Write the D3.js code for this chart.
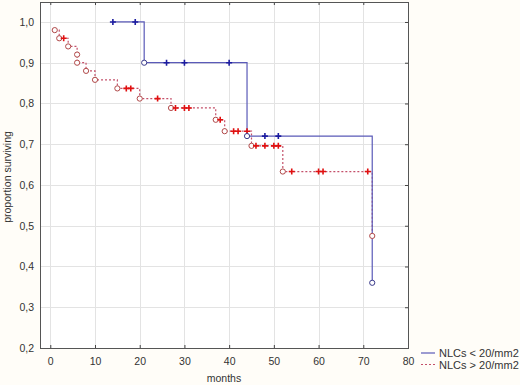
<!DOCTYPE html>
<html><head><meta charset="utf-8">
<script src="https://cdn.jsdelivr.net/npm/d3@7"></script>
<style>
html,body{margin:0;padding:0;background:#fffdf8;}
svg{display:block;font-family:"Liberation Sans",Arial,sans-serif;}
</style></head><body>
<svg id="chart" width="520" height="385"></svg>
<script>
// ---- data ----
const seriesNames = ["NLCs < 20/mm2", "NLCs > 20/mm2"];
// group 1 (NLCs < 20/mm2): time, survival, event(1)/censored(0)
const lowTimes  = [14, 19, 21, 26, 30, 40, 44, 48, 51, 72];
const lowSurv   = [1.0, 1.0, 0.90, 0.90, 0.90, 0.90, 0.72, 0.72, 0.72, 0.36];
const lowEvent  = [0, 0, 1, 0, 0, 0, 1, 0, 0, 1];
// group 2 (NLCs > 20/mm2)
const highTimes = [1, 2, 3, 4, 6, 6, 8, 10, 15, 17, 18, 20, 24, 27, 28, 30, 31, 37, 38, 39, 41, 42, 44, 45, 46, 48, 50, 51, 52, 54, 60, 61, 71, 72];
const highSurv  = [0.98, 0.96, 0.96, 0.94, 0.92, 0.90, 0.88, 0.858, 0.837, 0.837, 0.837, 0.812, 0.812, 0.789, 0.789, 0.789, 0.789, 0.76, 0.76, 0.732, 0.732, 0.732, 0.732, 0.696, 0.696, 0.696, 0.696, 0.696, 0.633, 0.633, 0.633, 0.633, 0.633, 0.475];
const highEvent = [1, 1, 0, 1, 1, 1, 1, 1, 1, 0, 0, 1, 0, 1, 0, 0, 0, 1, 0, 1, 0, 0, 0, 1, 0, 0, 0, 0, 1, 0, 0, 0, 0, 1];
const xTicks = [0, 10, 20, 30, 40, 50, 60, 70, 80];
const yTicks = [0.2, 0.3, 0.4, 0.5, 0.6, 0.7, 0.8, 0.9, 1.0];
const xLabel = "months";
const yLabel = "proportion surviving";

// ---- layout ----
const svg = d3.select("#chart");
const L = 40, R = 408, T = 2, B = 348;
const x = d3.scaleLinear().domain([-2.3, 80]).range([L, R]);
const y = d3.scaleLinear().domain([0.2, 1.049]).range([B, T]);
const fmt = d => d3.format(".1f")(d).replace(".", ",");

svg.append("rect").attr("x", L).attr("y", T).attr("width", R - L).attr("height", B - T).attr("fill", "#ffffff");

// grid
const grid = svg.append("g").attr("stroke", "#e3e3e3").attr("stroke-width", 1);
xTicks.forEach(t => { const px = Math.round(x(t)) + 0.5;
  grid.append("line").attr("x1", px).attr("x2", px).attr("y1", T).attr("y2", B); });
yTicks.forEach(t => { const py = Math.round(y(t)) + 0.5;
  grid.append("line").attr("x1", L).attr("x2", R).attr("y1", py).attr("y2", py); });

// axes with inward ticks
const ax = (axis, tr) => svg.append("g").attr("transform", tr).call(axis)
  .call(g => g.select(".domain").remove())
  .call(g => g.selectAll("line").attr("stroke", "#444"))
  .call(g => g.selectAll("text").attr("fill", "#333").style("font-size", "10.5px"));
ax(d3.axisBottom(x).tickValues(xTicks).tickSize(-3).tickPadding(10).tickFormat(d3.format("d")), `translate(0,${B})`);
ax(d3.axisTop(x).tickValues(xTicks).tickSize(-3).tickFormat(""), `translate(0,${T})`);
ax(d3.axisLeft(y).tickValues(yTicks).tickSize(0).tickPadding(6).tickFormat(fmt), `translate(${L},0)`);
ax(d3.axisRight(y).tickValues(yTicks).tickSize(-3).tickFormat(""), `translate(${R},0)`);

svg.append("rect").attr("x", L + 0.5).attr("y", T + 0.5).attr("width", R - L).attr("height", B - T)
  .attr("fill", "none").attr("stroke", "#555").attr("stroke-width", 1);

// step paths
function stepPts(times, surv) {
  const pts = [[times[0], surv[0]]];
  for (let i = 1; i < times.length; i++) {
    pts.push([times[i], surv[i - 1]]);
    pts.push([times[i], surv[i]]);
  }
  return pts;
}
const line = d3.line().x(d => x(d[0])).y(d => y(d[1]));

const groups = [
  {t: highTimes, s: highSurv, e: highEvent, line: "#c4506a", dash: "2,2", plus: "#e01010", circ: "#b04848"},
  {t: lowTimes, s: lowSurv, e: lowEvent, line: "#5a5ab8", dash: null, plus: "#1c1ca0", circ: "#3a3a8a"}
];
groups.forEach(g => {
  svg.append("path").attr("d", line(stepPts(g.t, g.s))).attr("fill", "none")
    .attr("stroke", g.line).attr("stroke-width", 1.2).attr("stroke-dasharray", g.dash);
});
groups.forEach(g => {
  const pts = g.t.map((t, i) => ({t, s: g.s[i], e: g.e[i]}));
  svg.append("g").selectAll("circle").data(pts.filter(d => d.e === 1)).join("circle")
    .attr("cx", d => x(d.t)).attr("cy", d => y(d.s)).attr("r", 2.6)
    .attr("fill", "#fff").attr("stroke", g.circ).attr("stroke-width", 1);
  svg.append("g").selectAll("path").data(pts.filter(d => d.e === 0)).join("path")
    .attr("d", d => { const cx = x(d.t), cy = y(d.s);
      return `M${cx - 3},${cy}H${cx + 3}M${cx},${cy - 3}V${cy + 3}`; })
    .attr("stroke", g.plus).attr("stroke-width", 1.6).attr("fill", "none");
});

// axis titles
svg.append("text").attr("x", (L + R) / 2).attr("y", 382).attr("text-anchor", "middle")
  .attr("fill", "#333").style("font-size", "10.5px").text(xLabel);
svg.append("text").attr("transform", `translate(11,177) rotate(-90)`).attr("text-anchor", "middle")
  .attr("fill", "#333").style("font-size", "10.5px").text(yLabel);

// legend
const leg = svg.append("g");
[{c: groups[1].line, d: null}, {c: groups[0].line, d: "2,2"}].forEach((it, i) => {
  const ly = 353 + i * 11.5;
  leg.append("line").attr("x1", 421).attr("x2", 435).attr("y1", ly).attr("y2", ly)
    .attr("stroke", it.c).attr("stroke-width", 1.2).attr("stroke-dasharray", it.d);
  leg.append("text").attr("x", 439).attr("y", ly + 4).attr("fill", "#333")
    .style("font-size", "11px").text(seriesNames[i]);
});
</script>
</body></html>
